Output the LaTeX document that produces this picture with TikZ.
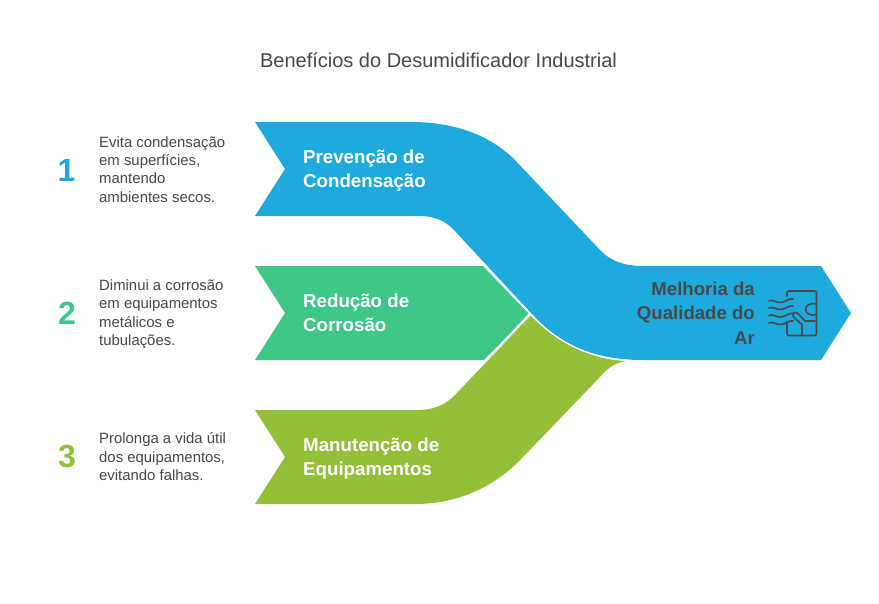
\documentclass[tikz,border=0pt]{standalone}
\usepackage{fontspec}
\setmainfont{Liberation Sans}
\definecolor{cblue}{HTML}{1EAADC}
\definecolor{cgreen}{HTML}{3EC787}
\definecolor{colive}{HTML}{93BF39}
\definecolor{cdark}{HTML}{484848}
\tikzset{
  x=1pt,y=-1pt,
  desc/.style={anchor=north west,align=left,inner sep=0pt,text=cdark,font=\fontsize{14.9}{18.4}\selectfont},
  num/.style={anchor=center,inner sep=0pt,font=\fontsize{32}{32}\selectfont\bfseries},
  lab/.style={anchor=west,align=left,inner sep=0pt,text=white,font=\fontsize{18.7}{24}\selectfont\bfseries},
  ico/.style={draw=cdark,line width=1.6pt,line cap=round,line join=round,fill=none}
}
\begin{document}
\begin{tikzpicture}
\useasboundingbox (0,0) rectangle (879,603);
\fill[white] (0,0) rectangle (879,603);
% olive
\fill[colive] (255,410) -- (418,410) .. controls (433,410) and (446,405) .. (456,394)
  -- (531,315) .. controls (562,347) and (595,360) .. (627,361)
  .. controls (617,362) and (608,367) .. (600,377)
  -- (523,457) .. controls (497,485) and (460,504) .. (415,504)
  -- (255,504) -- (285,457) -- cycle;
% green
\fill[cgreen] (255,266) -- (485,266) -- (529,313) -- (485,360) -- (255,360) -- (285,313) -- cycle;
% blue
\fill[cblue] (255,122) -- (410,122) .. controls (450,122) and (485,132) .. (513,158)
  -- (600,250) .. controls (610,261) and (625,266) .. (642,266)
  -- (821,266) -- (851,313) -- (821,360) -- (642,360)
  .. controls (595,360) and (562,347) .. (531,313)
  -- (453,229) .. controls (444,220) and (433,216) .. (420,216)
  -- (255,216) -- (285,169) -- cycle;
\draw[white,line width=1.2pt] (484,266) -- (531,315);
\draw[white,line width=1.2pt] (531,315) .. controls (562,347) and (595,360) .. (642,361);
\draw[white,line width=1.2pt] (484,361) -- (531,314);
% title
\node[anchor=center,inner sep=0pt,text=cdark,font=\fontsize{20}{24}\selectfont] (title) at (438.5,60.5) {Benefícios do Desumidificador Industrial};
% numbers
\node[num,text=cblue] (n1) at (66.5,170) {1};
\node[num,text=cgreen] (n2) at (67,313) {2};
\node[num,text=colive] (n3) at (67,457) {3};
% descriptions
\node[desc] (d1) at (99,136) {Evita condensação\\em superfícies,\\mantendo\\ambientes secos.};
\node[desc] (d2) at (99,279.5) {Diminui a corrosão\\em equipamentos\\metálicos e\\tubulações.};
\node[desc] (d3) at (99,432.5) {Prolonga a vida útil\\dos equipamentos,\\evitando falhas.};
% labels
\node[lab] (l1) at (303,171) {Prevenção de\\Condensação};
\node[lab] (l2) at (303,313) {Redução de\\Corrosão};
\node[lab] (l3) at (303,459) {Manutenção de\\Equipamentos};
\node[anchor=east,align=right,inner sep=0pt,text=cdark,font=\fontsize{18.6}{24.5}\selectfont\bfseries] (l4) at (755,313) {Melhoria da\\Qualidade do\\Ar};
% icon
\draw[ico] (787,296) -- (787,293) .. controls (787,292) and (788,291) .. (789,291) -- (814,291) .. controls (816,291) and (816.5,292) .. (816.5,293) -- (816.5,333) .. controls (816.5,335) and (816,335.5) .. (814,335.5) -- (789,335.5) .. controls (788,335.5) and (787,335) .. (787,333) -- (787,322);
\draw[ico] (769,301) .. controls (773,299) and (776,303) .. (781,302.5) .. controls (786,302) and (789,298) .. (793,299);
\draw[ico] (769,308) .. controls (773,306) and (776,310) .. (781,309.5) .. controls (786,309) and (789,305) .. (793,306);
\draw[ico] (769,315.5) .. controls (773,313.5) and (776,317.5) .. (781,317) .. controls (786,316.5) and (789,312.5) .. (793,313.5);
\draw[ico] (769,323) .. controls (773,321) and (776,325) .. (781,324.5) .. controls (786,324) and (789,320) .. (793,321);
\draw[ico] (816,304) .. controls (812,302.5) and (805.5,304.5) .. (805.5,309.5) .. controls (805.5,314) and (812,316) .. (816,314.5);
\draw[ico] (815,321) -- (805,321) -- (798,313.5) .. controls (795,310.5) and (791,314.5) .. (794,317.5) -- (802,324.5) -- (802,335);
\end{tikzpicture}
\end{document}
